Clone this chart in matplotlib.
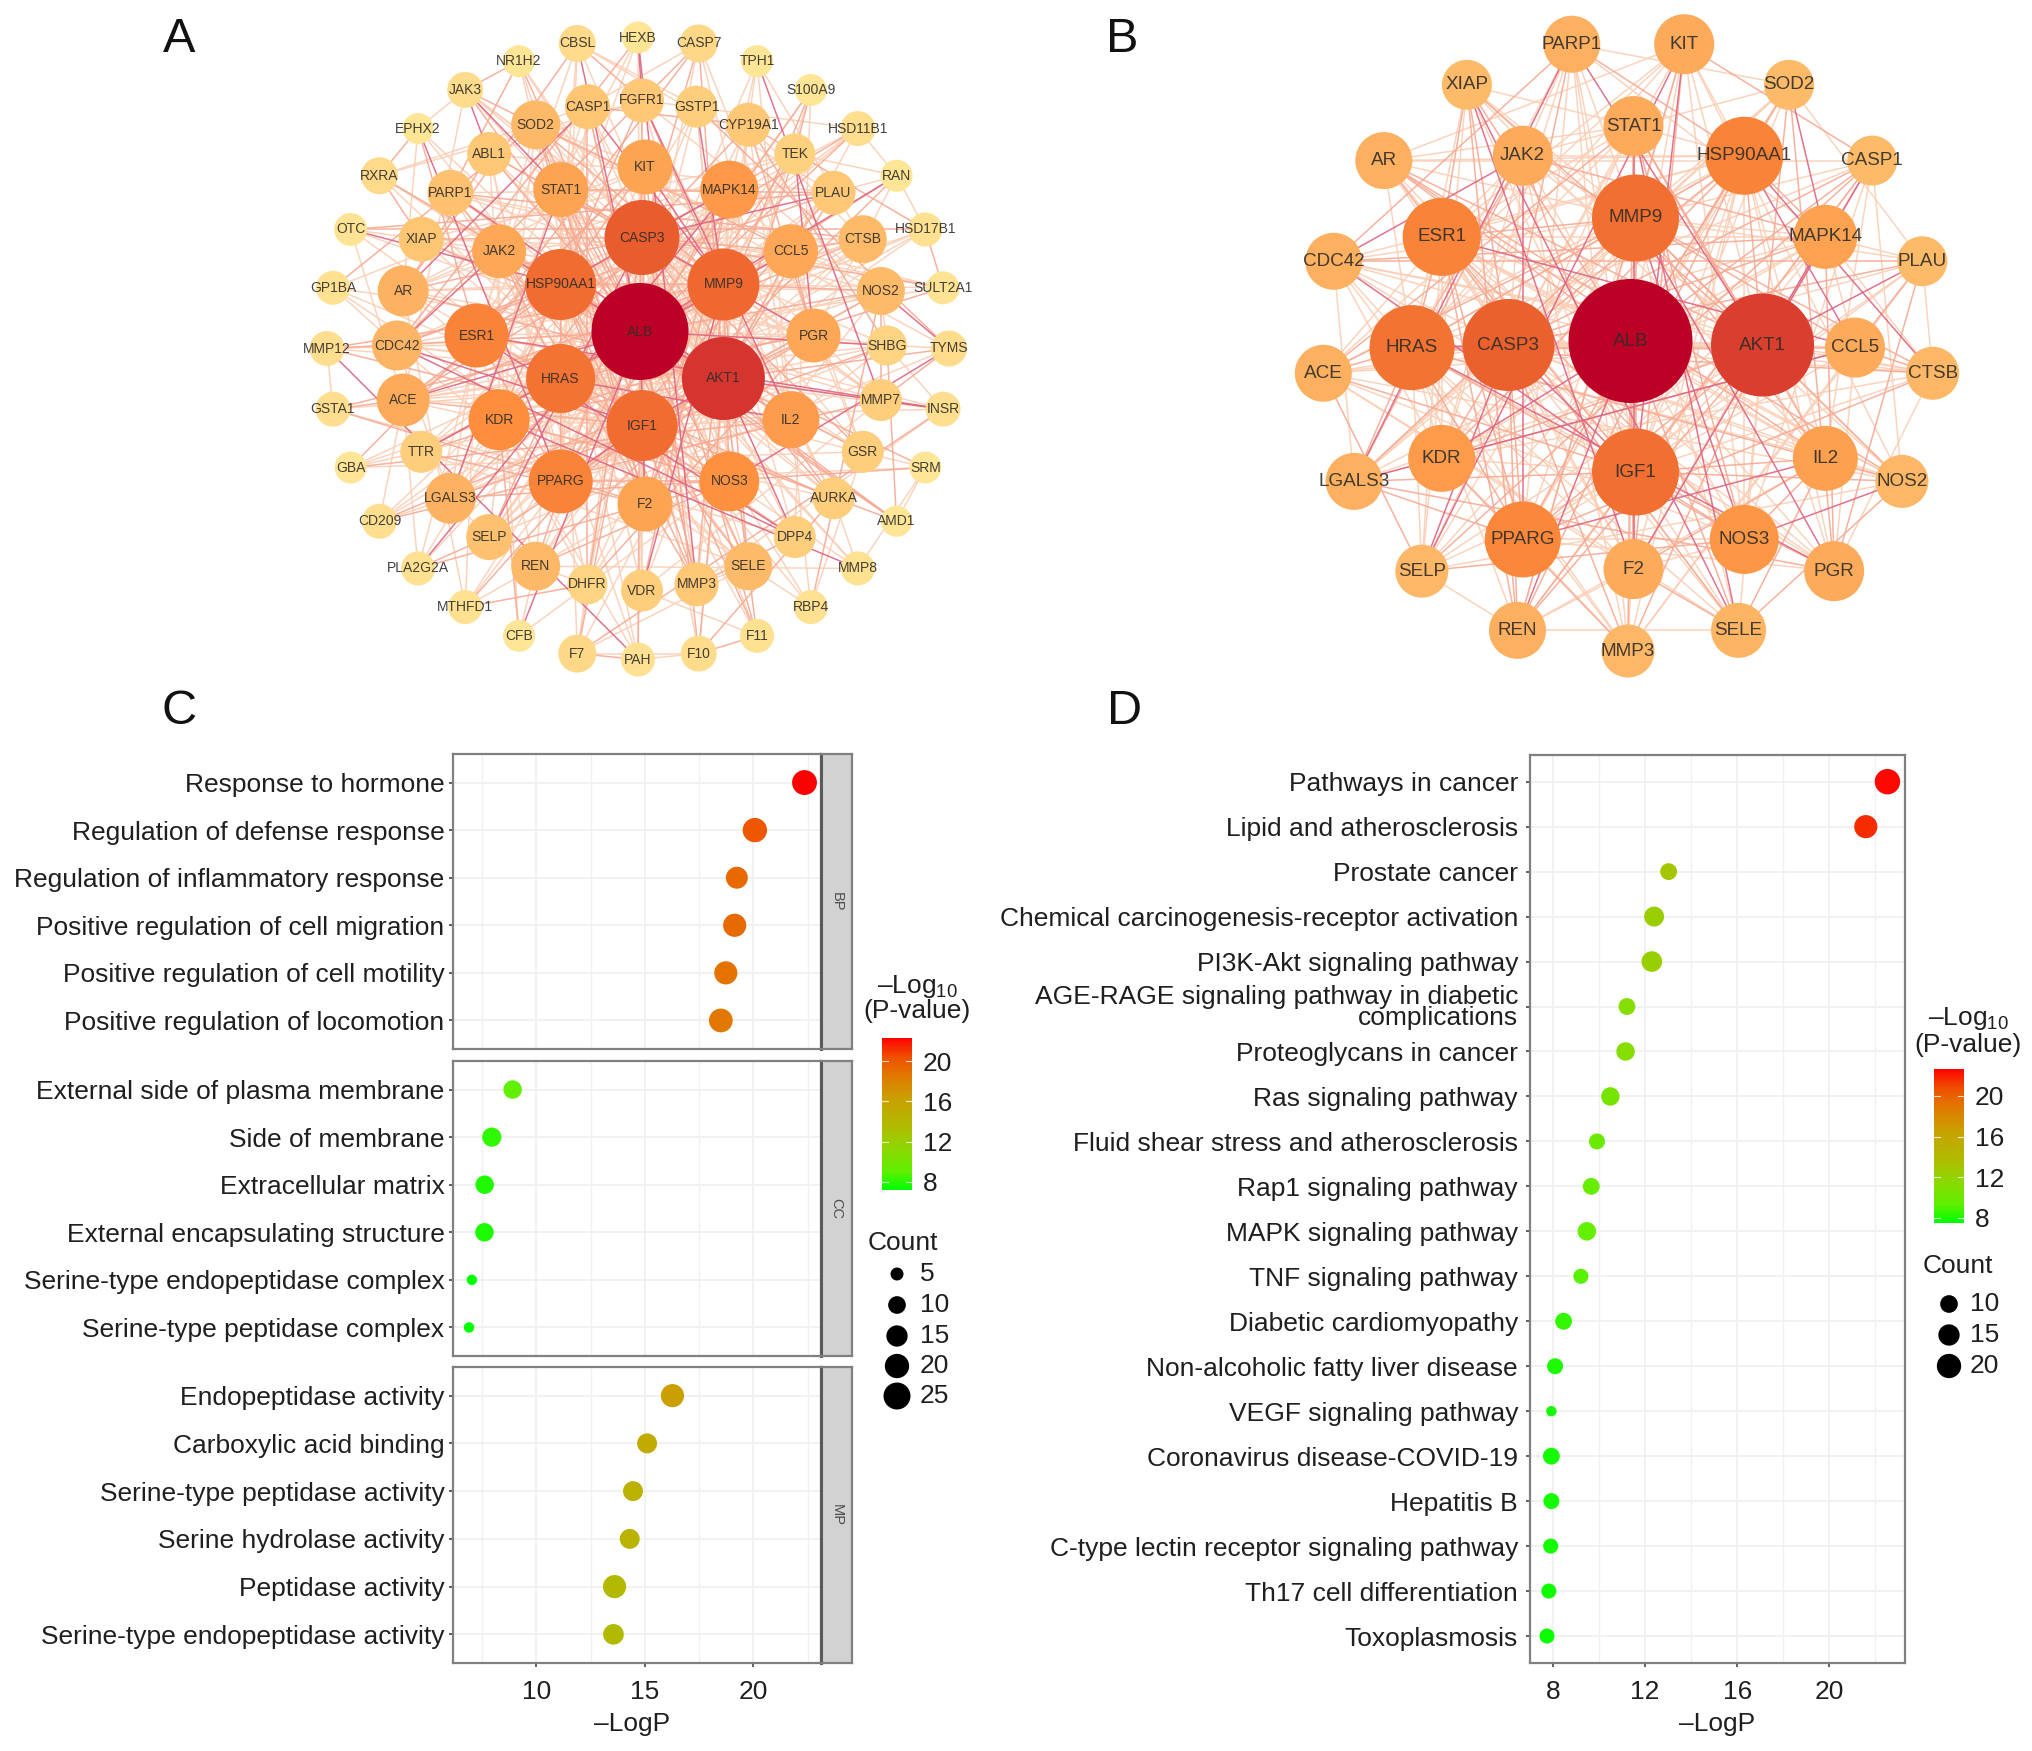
import numpy as np
import matplotlib
matplotlib.use("Agg")
import matplotlib.pyplot as plt
from matplotlib.colors import LinearSegmentedColormap
from matplotlib.collections import LineCollection
from matplotlib.patches import Circle
from matplotlib.ticker import MultipleLocator

plt.rcParams['font.family'] = ['Liberation Sans', 'DejaVu Sans']
plt.rcParams['mathtext.fontset'] = 'custom'
plt.rcParams['mathtext.rm'] = 'Liberation Sans'
plt.rcParams['mathtext.default'] = 'regular'

W, H = 2032, 1751

# ---------- Network A ----------
A_center = ["ALB"]
A_center_deg = [72]
A_ring1 = ["CASP3", "MMP9", "AKT1", "IGF1", "HRAS", "HSP90AA1"]
A_ring1_deg = [50, 47, 58, 46, 44, 46]
A_ring2 = ["KIT", "MAPK14", "CCL5", "PGR", "IL2", "NOS3", "F2", "PPARG", "KDR", "ESR1", "JAK2", "STAT1"]
A_ring2_deg = [30, 33, 29, 29, 32, 35, 30, 39, 36, 39, 29, 30]
A_ring3 = ["FGFR1", "GSTP1", "CYP19A1", "TEK", "PLAU", "CTSB", "NOS2", "SHBG", "MMP7", "GSR", "AURKA", "DPP4",
           "SELE", "MMP3", "VDR", "DHFR", "REN", "SELP", "LGALS3", "TTR", "ACE", "CDC42", "AR", "XIAP",
           "PARP1", "ABL1", "SOD2", "CASP1"]
A_ring3_deg = [19, 17, 19, 16, 19, 23, 23, 15, 17, 17, 17, 17, 23, 19, 17, 15, 24, 21, 26, 17, 28, 25, 26, 20,
               21, 19, 24, 20]
A_ring4 = ["HEXB", "CASP7", "TPH1", "S100A9", "HSD11B1", "RAN", "HSD17B1", "SULT2A1", "TYMS", "INSR", "SRM", "AMD1",
           "MMP8", "RBP4", "F11", "F10", "PAH", "F7", "CFB", "MTHFD1", "PLA2G2A", "CD209", "GBA", "GSTA1", "MMP12",
           "GP1BA", "OTC", "RXRA", "EPHX2", "JAK3", "NR1H2", "CBSL"]
A_ring4_deg = [7, 13, 7, 7, 10, 7, 9, 8, 11, 10, 7, 6, 9, 9, 9, 11, 9, 13, 7, 9, 9, 10, 7, 10, 10, 9, 8, 12, 6, 11, 7, 12]
A_extra_edges = [("SRM", "AMD1"), ("JAK3", "NR1H2"), ("JAK3", "EPHX2"), ("HSD11B1", "RAN"), ("RAN", "HSD17B1"),
                 ("HSD17B1", "SULT2A1"), ("F7", "PAH"), ("PAH", "F10"), ("F10", "F11"), ("F7", "F10"),
                 ("RXRA", "XIAP"), ("EPHX2", "RXRA"), ("JAK3", "STAT1"), ("JAK3", "ABL1"), ("CASP7", "CASP1"),
                 ("CASP7", "CASP3"), ("TYMS", "MMP7"), ("TYMS", "NOS2"), ("INSR", "MMP7"), ("INSR", "SHBG"),
                 ("RBP4", "SELE"), ("MMP8", "AURKA"), ("GSTA1", "ACE"), ("GP1BA", "CDC42"), ("MMP12", "CDC42"),
                 ("OTC", "XIAP"), ("GBA", "TTR"), ("CD209", "LGALS3"), ("PLA2G2A", "SELP"), ("CFB", "REN"),
                 ("MTHFD1", "DHFR"), ("TPH1", "CYP19A1"), ("S100A9", "TEK"), ("CBSL", "FGFR1"), ("HEXB", "FGFR1"),
                 ("SHBG", "PGR"), ("PLAU", "RAN")]

# ---------- Network B ----------
B_center = ["ALB"]
B_center_deg = [124]
B_ring1 = ["MMP9", "AKT1", "IGF1", "CASP3"]
B_ring1_deg = [87, 103, 87, 92]
B_ring2 = ["STAT1", "HSP90AA1", "MAPK14", "CCL5", "IL2", "NOS3", "F2", "PPARG", "KDR", "HRAS", "ESR1", "JAK2"]
B_ring2_deg = [60, 78, 64, 60, 65, 69, 60, 76, 67, 85, 78, 60]
B_ring3 = ["KIT", "SOD2", "CASP1", "PLAU", "CTSB", "NOS2", "PGR", "SELE", "MMP3", "REN", "SELP", "LGALS3", "ACE",
           "CDC42", "AR", "XIAP", "PARP1"]
B_ring3_deg = [60, 50, 50, 50, 53, 53, 60, 55, 53, 57, 53, 57, 57, 57, 57, 50, 57]

# ---------- Panel C ----------
C_BP_terms = ["Response to hormone", "Regulation of defense response", "Regulation of inflammatory response",
              "Positive regulation of cell migration", "Positive regulation of cell motility",
              "Positive regulation of locomotion"]
C_BP_logp = [22.36, 20.07, 19.24, 19.14, 18.73, 18.50]
C_BP_count = [21, 20, 16, 18, 18, 19]
C_CC_terms = ["External side of plasma membrane", "Side of membrane", "Extracellular matrix",
              "External encapsulating structure", "Serine-type endopeptidase complex", "Serine-type peptidase complex"]
C_CC_logp = [8.90, 7.94, 7.61, 7.60, 7.02, 6.89]
C_CC_count = [11, 12, 11, 11, 3, 3]
C_MF_terms = ["Endopeptidase activity", "Carboxylic acid binding", "Serine-type peptidase activity",
              "Serine hydrolase activity", "Peptidase activity", "Serine-type endopeptidase activity"]
C_MF_logp = [16.27, 15.10, 14.45, 14.30, 13.60, 13.55]
C_MF_count = [18, 13, 13, 13, 18, 14]
C_count_legend = [5, 10, 15, 20, 25]
C_cbar_ticks = [8, 12, 16, 20]
C_xticks = [10, 15, 20]

# ---------- Panel D ----------
D_terms = ["Pathways in cancer", "Lipid and atherosclerosis", "Prostate cancer",
           "Chemical carcinogenesis-receptor activation", "PI3K-Akt signaling pathway",
           "AGE-RAGE signaling pathway in diabetic\ncomplications", "Proteoglycans in cancer", "Ras signaling pathway",
           "Fluid shear stress and atherosclerosis", "Rap1 signaling pathway", "MAPK signaling pathway",
           "TNF signaling pathway", "Diabetic cardiomyopathy", "Non-alcoholic fatty liver disease",
           "VEGF signaling pathway", "Coronavirus disease-COVID-19", "Hepatitis B",
           "C-type lectin receptor signaling pathway", "Th17 cell differentiation", "Toxoplasmosis"]
D_logp = [22.52, 21.58, 13.02, 12.39, 12.29, 11.21, 11.15, 10.49, 9.91, 9.66, 9.47, 9.21, 8.46, 8.09, 7.93, 7.93,
          7.93, 7.90, 7.82, 7.74]
D_count = [22, 18, 9, 13, 14, 9, 11, 11, 8, 9, 11, 7, 9, 8, 3, 9, 8, 7, 7, 7]
D_count_legend = [10, 15, 20]
D_cbar_ticks = [8, 12, 16, 20]
D_xticks = [8, 12, 16, 20]

# ---------- styles ----------
node_cmap = LinearSegmentedColormap.from_list("node", [
    (0, "#FFE596"), (.15, "#FECF7D"), (.3, "#FDB060"), (.45, "#FD8D3C"), (.6, "#F06C30"),
    (.7, "#E4532C"), (.8, "#D3302F"), (1, "#BD0026")])
dot_cmap = LinearSegmentedColormap.from_list("dot", [
    (0, "#00FF00"), (.12, "#60F000"), (.25, "#88DC00"), (.4, "#AEBE00"), (.6, "#CBA000"),
    (.75, "#E27800"), (.87, "#F05000"), (1, "#FF0000")])
BORDER = "#808080"
GRID = "#F0F0F0"
TXT = "#1f1f1f"
FS = 19

fig = plt.figure(figsize=(W / 100, H / 100), dpi=100, facecolor="white")


def px_axes(x0, y0, x1, y1, **kw):
    return fig.add_axes([x0 / W, 1 - y1 / H, (x1 - x0) / W, (y1 - y0) / H], **kw)


ov = fig.add_axes([0, 0, 1, 1], zorder=5)
ov.set_xlim(0, W)
ov.set_ylim(H, 0)
ov.axis("off")
ov.patch.set_alpha(0)


def ring_xy(cx, cy, r, n, start=0.0):
    ang = np.deg2rad(start + np.arange(n) * 360.0 / n)
    return cx + r * np.sin(ang), cy - r * np.cos(ang)


def draw_network(rings, geometry, diam, tval, hub_scale, fs, extra=()):
    names, degs, xs, ys = [], [], [], []
    for (g, d), (cx, cy, r, start) in zip(rings, geometry):
        x, y = ring_xy(cx, cy, r, len(g), start)
        names += g
        degs += d
        xs += list(x)
        ys += list(y)
    degs = np.array(degs, float)
    n = len(names)
    order = np.argsort(-degs, kind="stable")
    edges = set()
    for rank, i in enumerate(order):
        k = int(round(diam(degs[i]) * hub_scale - 30 * hub_scale))
        for j in range(k):
            other = order[j // 2] if j % 2 == 0 else order[(rank * 5 + j * 7 + 3) % n]
            if other != i:
                edges.add((min(i, other), max(i, other)))
    idx = {nm: i for i, nm in enumerate(names)}
    for a, b in extra:
        i, j = idx[a], idx[b]
        edges.add((min(i, j), max(i, j)))
    tiers = {"#FBCFB6": [], "#F7A992": [], "#DE6480": []}
    for a, b in sorted(edges):
        key = (a * 7 + b * 11) % 13
        c = "#DE6480" if key == 0 else ("#F7A992" if key in (1, 2, 3, 4) else "#FBCFB6")
        tiers[c].append([(xs[a], ys[a]), (xs[b], ys[b])])
    for c, segs in tiers.items():
        ov.add_collection(LineCollection(segs, colors=c, linewidths=1.1, alpha=.9, zorder=1))
    for i in range(n):
        ov.add_patch(Circle((xs[i], ys[i]), diam(degs[i]) / 2, fc=node_cmap(tval(degs[i])), ec="none", zorder=3))
        ov.text(xs[i], ys[i], names[i], ha="center", va="center", fontsize=fs, color="#2f2d28", alpha=.9, zorder=4)


draw_network(
    [(A_center, A_center_deg), (A_ring1, A_ring1_deg), (A_ring2, A_ring2_deg), (A_ring3, A_ring3_deg), (A_ring4, A_ring4_deg)],
    [(640, 331.5, 0, 0), (642, 331.5, 94, 0), (645, 335.5, 168.5, 0), (642, 345.5, 245, 0), (638, 348.5, 311, 0)],
    diam=lambda d: d + 25,
    tval=lambda d: min(1.0, max(0.0, (d - 7) / 65)),
    hub_scale=.55, fs=10, extra=A_extra_edges)

draw_network(
    [(B_center, B_center_deg), (B_ring1, B_ring1_deg), (B_ring2, B_ring2_deg), (B_ring3, B_ring3_deg)],
    [(1630.5, 341, 0, 0), (1635.5, 345, 127, 0), (1633.5, 347.6, 221.5, 0), (1628, 345, 306, 180 / 17)],
    diam=lambda d: d,
    tval=lambda d: .25 + .75 * ((d - 50) / 74) ** 1.15,
    hub_scale=.5, fs=13.6)

for letter, (lx, ly) in zip("ABCD", [(179, 39), (1122, 39), (179, 711), (1125, 711)]):
    ov.text(lx, ly, letter, ha="center", va="center", fontsize=35, color="#111111")


def dot_s(count):
    d_px = 5.07 * np.sqrt(np.asarray(count, float)) + 1.65
    return (d_px * 0.72) ** 2


def style_axes(ax, xlim, major, minor, terms, pad):
    ax.set_xlim(*xlim)
    n = len(terms)
    ax.set_ylim(n - 1 + .6, -.6)
    ax.xaxis.set_major_locator(MultipleLocator(major))
    ax.xaxis.set_minor_locator(MultipleLocator(minor))
    ax.grid(which="major", color=GRID, lw=1.3)
    ax.grid(which="minor", axis="x", color=GRID, lw=1.0)
    ax.set_axisbelow(True)
    ax.set_yticks(range(n))
    ax.set_yticklabels(terms, fontsize=FS, color=TXT, linespacing=.82, ma="right")
    ax.tick_params(axis="y", length=3.2, width=1.1, color="#333333", pad=pad)
    ax.tick_params(axis="x", which="minor", length=0)
    for s in ax.spines.values():
        s.set_color(BORDER)
        s.set_linewidth(1.6)


# ---------- Panel C drawing ----------
C_norm = (7.0, 22.36)
C_xlim = (6.15, 23.12)
C_boxes = [(754, 1049), (1061, 1356), (1367, 1663)]
C_groups = [("BP", C_BP_terms, C_BP_logp, C_BP_count), ("CC", C_CC_terms, C_CC_logp, C_CC_count),
            ("MP", C_MF_terms, C_MF_logp, C_MF_count)]
for (y0, y1), (lab, terms, logp, cnt) in zip(C_boxes, C_groups):
    ax = px_axes(453, y0, 821, y1)
    style_axes(ax, C_xlim, 5, 2.5, terms, 3)
    ax.scatter(logp, range(len(terms)), s=dot_s(cnt), c=logp, cmap=dot_cmap, vmin=C_norm[0], vmax=C_norm[1],
               linewidths=0, zorder=3, clip_on=False)
    strip = px_axes(821, y0, 852, y1)
    strip.set_facecolor("#D2D2D2")
    strip.set_xticks([])
    strip.set_yticks([])
    for s in strip.spines.values():
        s.set_color(BORDER)
        s.set_linewidth(1.6)
    strip.spines["left"].set_color("#5a5a5a")
    strip.spines["left"].set_linewidth(2.2)
    strip.text(.5, .5, lab, rotation=-90, ha="center", va="center", fontsize=10.5, color="#4d4d4d",
               transform=strip.transAxes)
    if lab == "MP":
        ax.set_xticks(C_xticks)
        ax.tick_params(axis="x", which="major", length=3.2, width=1.1, color="#333333", labelsize=FS,
                       labelcolor=TXT, pad=9)
    else:
        ax.tick_params(axis="x", which="major", length=0, labelbottom=False)
ov.text(632, 1724, "\u2013LogP", ha="center", va="center", fontsize=FS, color=TXT)

# ---------- Panel D drawing ----------
D_norm = (7.5, 22.7)
ax = px_axes(1529.5, 754.7, 1904.5, 1663)
style_axes(ax, (6.98, 23.26), 4, 2, D_terms, 5)
ax.scatter(D_logp, range(len(D_terms)), s=dot_s(D_count), c=D_logp, cmap=dot_cmap, vmin=D_norm[0], vmax=D_norm[1],
           linewidths=0, zorder=3, clip_on=False)
ax.set_xticks(D_xticks)
ax.tick_params(axis="x", which="major", length=3.2, width=1.1, color="#333333", labelsize=FS, labelcolor=TXT, pad=9)
ov.text(1717, 1724, "\u2013LogP", ha="center", va="center", fontsize=FS, color=TXT)


def colorbar(x0, y0, x1, y1, vlim, ticks):
    cax = px_axes(x0, y0, x1, y1)
    grad = np.linspace(0, 1, 256).reshape(-1, 1)
    cax.imshow(grad, extent=[0, 1, vlim[0], vlim[1]], origin="lower", aspect="auto", cmap=dot_cmap)
    for t in ticks:
        cax.plot([0, .2], [t, t], color="white", lw=.8, alpha=.8)
        cax.plot([.8, 1], [t, t], color="white", lw=.8, alpha=.8)
    cax.set_xlim(0, 1)
    cax.set_ylim(*vlim)
    cax.set_xticks([])
    cax.yaxis.tick_right()
    cax.set_yticks(ticks)
    cax.tick_params(axis="y", length=0, labelsize=FS, labelcolor=TXT, pad=8)
    for s in cax.spines.values():
        s.set_visible(False)


def legend(tx, ty1, ty2, counts, cx, count_xy, ys, lx):
    ov.text(tx, ty1, "\u2013Log$_{10}$", ha="center", va="center", fontsize=FS, color=TXT)
    ov.text(tx, ty2, "(P-value)", ha="center", va="center", fontsize=FS, color=TXT)
    ov.text(count_xy[0], count_xy[1], "Count", ha="center", va="center", fontsize=FS, color=TXT)
    ov.scatter([cx] * len(counts), ys, s=dot_s(counts), c="black", linewidths=0, zorder=4)
    for c, y in zip(counts, ys):
        ov.text(lx, y, str(c), ha="left", va="center", fontsize=FS, color=TXT)


colorbar(882, 1038, 912, 1190, (7.2, 22.3), C_cbar_ticks)
legend(917, 986, 1011, C_count_legend, 897, (903, 1243), [1274, 1305, 1336, 1366, 1396], 920)
colorbar(1934, 1068.6, 1964, 1222.8, (7.5, 22.7), D_cbar_ticks)
legend(1968, 1018, 1045, D_count_legend, 1949, (1958, 1266), [1304, 1335, 1366], 1970)

fig.savefig("out.png", dpi=100, facecolor="white")
